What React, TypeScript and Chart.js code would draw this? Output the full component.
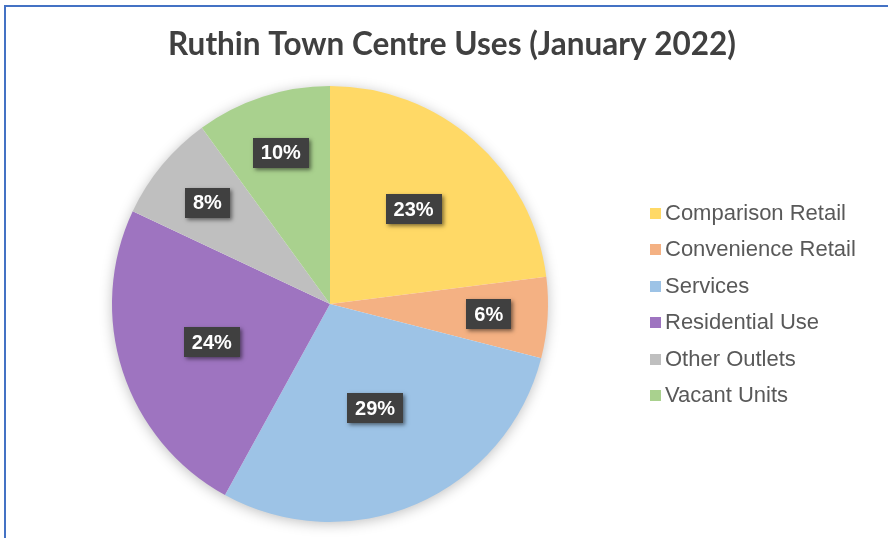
import React, { useEffect, useRef } from "react";
import { Chart, registerables } from "chart.js";

Chart.register(...registerables);

const TITLE = "Ruthin Town Centre Uses (January 2022)";
const CATEGORIES = [
  "Comparison Retail",
  "Convenience Retail",
  "Services",
  "Residential Use",
  "Other Outlets",
  "Vacant Units",
];
const VALUES = [23, 6, 29, 24, 8, 10];
const COLORS = ["#FFD966", "#F4B183", "#9DC3E6", "#9E74C0", "#BFBFBF", "#A9D18E"];

const decorPlugin = {
  id: "decor",
  beforeDatasetsDraw(chart: any) {
    const meta = chart.getDatasetMeta(0);
    const arc = meta.data[0];
    if (!arc) return;
    const { x, y, outerRadius } = arc.getProps(["x", "y", "outerRadius"], true);
    const ctx = chart.ctx;
    ctx.save();
    ctx.shadowColor = "rgba(0,0,0,0.28)";
    ctx.shadowBlur = 14;
    ctx.shadowOffsetX = 0;
    ctx.shadowOffsetY = 2;
    ctx.beginPath();
    ctx.arc(x, y, outerRadius - 1, 0, Math.PI * 2);
    ctx.fillStyle = "#ffffff";
    ctx.fill();
    ctx.restore();
  },
  afterDatasetsDraw(chart: any) {
    const ctx = chart.ctx;
    const meta = chart.getDatasetMeta(0);
    const data = chart.data.datasets[0].data as number[];
    const total = data.reduce((a, b) => a + b, 0);
    ctx.save();
    ctx.font = "bold 20px 'Liberation Sans', Arial, sans-serif";
    ctx.textAlign = "center";
    ctx.textBaseline = "middle";
    meta.data.forEach((el: any, i: number) => {
      const p = el.getProps(["x", "y", "startAngle", "endAngle", "outerRadius"], true);
      const pct = Math.round((data[i] / total) * 100);
      const mid = (p.startAngle + p.endAngle) / 2;
      const frac = pct <= 12 ? 0.73 : 0.81 - 0.01 * pct;
      const r = p.outerRadius * frac;
      const cx = p.x + Math.cos(mid) * r;
      const cy = p.y + Math.sin(mid) * r;
      const text = pct + "%";
      const w = ctx.measureText(text).width + 16;
      const h = 30;
      ctx.save();
      ctx.shadowColor = "rgba(0,0,0,0.5)";
      ctx.shadowBlur = 4;
      ctx.shadowOffsetX = 2;
      ctx.shadowOffsetY = 2;
      ctx.fillStyle = "#404040";
      ctx.fillRect(Math.round(cx - w / 2), Math.round(cy - h / 2), Math.round(w), h);
      ctx.restore();
      ctx.fillStyle = "#ffffff";
      ctx.fillText(text, cx, cy + 1);
    });
    ctx.restore();
  },
  afterDraw(chart: any) {
    const ctx = chart.ctx;
    const area = chart.chartArea;
    ctx.save();
    // title
    ctx.font = "bold 31.5px Lato, 'Open Sans', sans-serif";
    ctx.fillStyle = "#404040";
    ctx.textAlign = "center";
    ctx.textBaseline = "alphabetic";
    ctx.fillText(TITLE, 452, 55);
    // legend
    const labels = chart.data.labels as string[];
    const colors = chart.data.datasets[0].backgroundColor as string[];
    const spacing = 36.4;
    const cy = (area.top + area.bottom) / 2;
    const y0 = cy - ((labels.length - 1) / 2) * spacing;
    ctx.font = "22px 'Liberation Sans', Arial, sans-serif";
    ctx.textAlign = "left";
    ctx.textBaseline = "middle";
    labels.forEach((lab, i) => {
      const y = y0 + i * spacing;
      ctx.fillStyle = colors[i];
      ctx.fillRect(650, Math.round(y - 5), 11, 11);
      ctx.fillStyle = "#595959";
      ctx.fillText(lab, 665, y + 1);
    });
    ctx.restore();
  },
};

export default function App() {
  const ref = useRef<HTMLCanvasElement | null>(null);
  useEffect(() => {
    if (!ref.current) return;
    const chart = new Chart(ref.current, {
      type: "pie",
      data: {
        labels: CATEGORIES,
        datasets: [
          {
            data: VALUES,
            backgroundColor: COLORS,
            borderWidth: 0,
            hoverOffset: 0,
            offset: 0,
          },
        ],
      },
      options: {
        responsive: false,
        animation: false,
        devicePixelRatio: 1,
        layout: { padding: { left: 14, right: 242, top: 86, bottom: 16 } },
        plugins: {
          legend: { display: false },
          title: { display: false },
          tooltip: { enabled: false },
        },
      },
      plugins: [decorPlugin],
    });
    return () => chart.destroy();
  }, []);
  return (
    <div style={{ position: "fixed", left: 0, top: 0, width: 888, height: 538, background: "#fff", overflow: "hidden" }}>
      <canvas ref={ref} width={888} height={538} style={{ position: "absolute", left: 0, top: 0, width: 888, height: 538 }} />
      <div
        style={{
          position: "absolute",
          left: 4,
          top: 5,
          width: 2000,
          height: 2000,
          borderLeft: "2px solid #4472C4",
          borderTop: "2px solid #4472C4",
          pointerEvents: "none",
        }}
      />
    </div>
  );
}
